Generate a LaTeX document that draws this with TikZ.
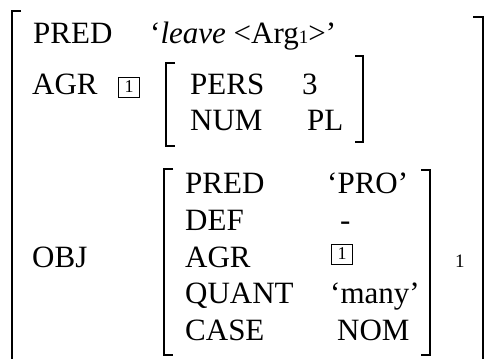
\documentclass[tikz,border=0pt]{standalone}
\usepackage{fontspec}
\setmainfont{Liberation Serif}
\begin{document}
\begin{tikzpicture}[x=1pt,y=-1pt,
 txt/.style={anchor=base west,inner sep=0pt,font=\fontsize{31}{36}\selectfont},
 small/.style={anchor=base west,inner sep=0pt,font=\fontsize{19}{21}\selectfont},
 tagbox/.style={draw,line width=0.8pt,minimum width=21pt,minimum height=20pt,inner sep=0pt,font=\fontsize{18}{20}\selectfont},
 brk/.style={line width=1.3pt}]
\useasboundingbox (0,0) rectangle (486,358);
% outer brackets
\draw[brk] (21,11) -- (12,11) -- (12,360);
\draw[brk] (473,17) -- (483,17) -- (483,360);
% AGR brackets
\draw[brk] (175,63) -- (166,63) -- (166,146) -- (175,146);
\draw[brk] (355,56) -- (363,56) -- (363,142) -- (355,142);
% OBJ brackets
\draw[brk] (173,169) -- (164,169) -- (164,355) -- (173,355);
\draw[brk] (421,170) -- (430,170) -- (430,355) -- (421,355);
% row 1
\node[txt] (pred) at (33,44) {PRED};
\node[txt] (predv) at (150,44) {‘\textit{leave} <Arg{\fontsize{19}{21}\selectfont 1}>’};
% row 2
\node[txt] (agr) at (32,95) {AGR};
\node[tagbox] (tag1) at (129,87) {1};
\node[txt] (pers) at (190,95) {PERS};
\node[txt] (persv) at (302,95) {3};
\node[txt] (num) at (190,131) {NUM};
\node[txt] (numv) at (307,131) {PL};
% OBJ
\node[txt] (obj) at (32,267) {OBJ};
\node[txt] (opred) at (185,193) {PRED};
\node[txt] (opredv) at (327,193) {‘PRO’};
\node[txt] (odef) at (185,230) {DEF};
\node[txt] (odefv) at (340,230) {-};
\node[txt] (oagr) at (185,267) {AGR};
\node[tagbox] (tag2) at (342,254) {1};
\node[txt] (oquant) at (185,303) {QUANT};
\node[txt] (oquantv) at (330,303) {‘many’};
\node[txt] (ocase) at (185,340) {CASE};
\node[txt] (ocasev) at (337,340) {NOM};
\node[small] (sub) at (455,267) {1};
\end{tikzpicture}
\end{document}
